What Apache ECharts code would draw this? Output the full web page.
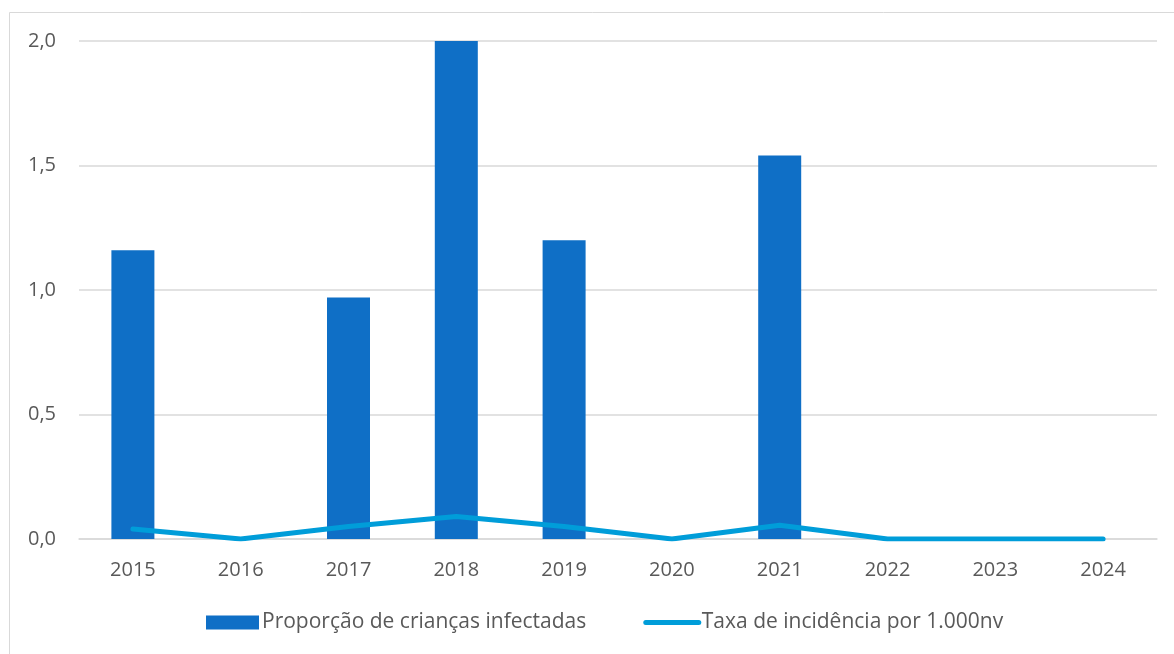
<!DOCTYPE html>
<html><head><meta charset="utf-8">
<script src="https://cdn.jsdelivr.net/npm/echarts@6/dist/echarts.min.js"></script>
<style>html,body{margin:0;padding:0;background:#fff}#c{width:1174px;height:654px}</style>
</head><body><div id="c"></div>
<script>
const years = ['2015','2016','2017','2018','2019','2020','2021','2022','2023','2024'];
const proporcao = [1.16, null, 0.97, 2.0, 1.2, null, 1.54, null, null, null];
const taxa = [0.04, 0.0, 0.05, 0.09, 0.05, 0.0, 0.055, 0.0, 0.0, 0.0];
const FONT = '"Open Sans", sans-serif';
const chart = echarts.init(document.getElementById('c'));
chart.setOption({
  animation: false,
  backgroundColor: '#fff',
  graphic: [{type:'rect', shape:{x:9.5,y:12.5,width:1200,height:700}, style:{fill:'none', stroke:'#d9d9d9', lineWidth:1}, silent:true, z:-10}],
  grid: {left:79, right:17, top:41, bottom:115},
  legend: {
    bottom: 16, left: 201, itemGap: 57, itemWidth: 53, itemHeight: 14,
    textStyle: {fontFamily: FONT, fontSize: 21, color: '#595959', padding:[0,0,0,-2]},
    data: [
      {name:'Proporção de crianças infectadas', icon:'rect'},
      {name:'Taxa de incidência por 1.000nv', itemStyle:{opacity:0}, lineStyle:{width:5, cap:'round', color:'#009DD9'}}
    ]
  },
  xAxis: {
    type:'category', data: years,
    axisLine:{lineStyle:{color:'#d9d9d9', width:1.5}}, axisTick:{show:false},
    axisLabel:{fontFamily:FONT, fontSize:20, color:'#595959', margin:21}
  },
  yAxis: {
    type:'value', min:0, max:2, interval:0.5,
    axisLabel:{fontFamily:FONT, fontSize:20, color:'#595959', margin:23,
      formatter: v => v.toFixed(1).replace('.', ',')},
    splitLine:{lineStyle:{color:'#d9d9d9', width:1.5}},
    axisLine:{show:false}, axisTick:{show:false}
  },
  series: [
    {name:'Proporção de crianças infectadas', type:'bar', data: proporcao, barWidth: 43,
     itemStyle:{color:'#0F6FC6'}},
    {name:'Taxa de incidência por 1.000nv', type:'line', data: taxa, symbol:'none', showSymbol:false,
     lineStyle:{color:'#009DD9', width:5, cap:'round', join:'round'}, itemStyle:{color:'#009DD9'}, z:3}
  ]
});
</script></body></html>
